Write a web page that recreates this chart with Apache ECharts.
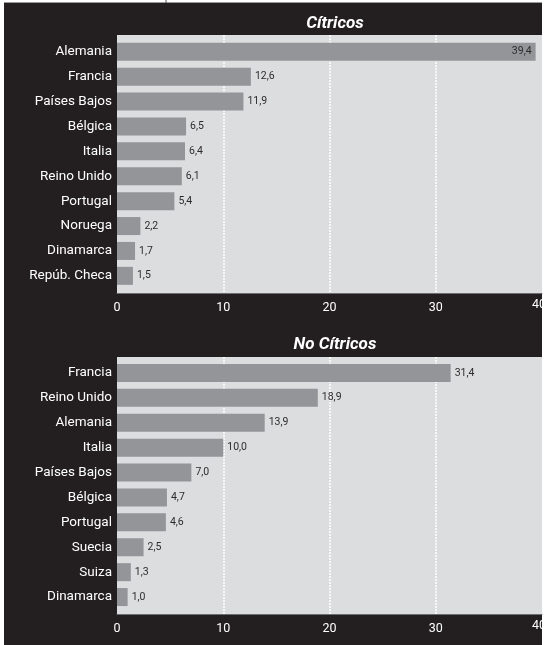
<!DOCTYPE html>
<html>
<head>
<meta charset="utf-8">
<script src="https://cdn.jsdelivr.net/npm/echarts@6/dist/echarts.min.js"></script>
<style>
html,body{margin:0;padding:0;background:#fff;}
#chart{width:544px;height:645px;}
</style>
</head>
<body>
<div id="chart"></div>
<script>
const citricosTitle = 'Cítricos';
const citricosCats = ['Alemania','Francia','Países Bajos','Bélgica','Italia','Reino Unido','Portugal','Noruega','Dinamarca','Repúb. Checa'];
const citricosVals = [39.4,12.6,11.9,6.5,6.4,6.1,5.4,2.2,1.7,1.5];

const noCitricosTitle = 'No Cítricos';
const noCitricosCats = ['Francia','Reino Unido','Alemania','Italia','Países Bajos','Bélgica','Portugal','Suecia','Suiza','Dinamarca'];
const noCitricosVals = [31.4,18.9,13.9,10.0,7.0,4.7,4.6,2.5,1.3,1.0];

const xMin = 0, xMax = 40, xStep = 10;

const BLACK = '#231f20';
const BAR = '#939598';
const PLOT_BG = '#dcdddf';
const FONT = 'Roboto';

function fmt(v){ return v.toFixed(1).replace('.', ','); }

function barData(vals){
  return vals.map(v => ({
    value: v,
    label: v > 35 ? {position: 'insideRight', distance: 4} : {position: 'right', distance: 4}
  }));
}

// outer axis: background panel, grid lines, tick labels
function xAxisOuter(gi){
  return {
    gridIndex: gi, type: 'value', min: xMin, max: xMax, interval: xStep,
    axisLine: {show: true, lineStyle: {color: '#6d6e71', width: 1}},
    axisTick: {show: false},
    splitLine: {show: true, showMinLine: false, showMaxLine: false,
                lineStyle: {color: '#ffffff', type: [2, 1], width: 1.5}},
    axisLabel: {
      color: '#ffffff', fontFamily: FONT, fontSize: 12.5, margin: 5,
      showMinLabel: true, showMaxLabel: true,
      formatter: v => v === xMax ? '{e|' + v + '}' : '{n|' + v + '}',
      rich: {
        n: {color: '#ffffff', fontFamily: FONT, fontSize: 12.5, padding: [3, 0, 0, 0]},
        e: {color: '#ffffff', fontFamily: FONT, fontSize: 12.5, padding: [0, 6, 0, 0]}
      }
    }
  };
}
// inner axis: same scale, hidden, carries the bars
function xAxisInner(gi){
  return {
    gridIndex: gi, type: 'value', min: xMin, max: xMax, interval: xStep,
    axisLine: {show: false}, axisTick: {show: false}, splitLine: {show: false}, axisLabel: {show: false}
  };
}

function yAxisOuter(gi){
  return {gridIndex: gi, type: 'category', data: [''], show: false};
}
function yAxisInner(gi, cats){
  return {
    gridIndex: gi, type: 'category', data: cats, inverse: true,
    axisLine: {show: false}, axisTick: {show: false}, splitLine: {show: false},
    axisLabel: {color: '#ffffff', fontFamily: FONT, fontSize: 13.5, margin: 5}
  };
}

function series(ai, vals){
  return {
    type: 'bar', xAxisIndex: ai, yAxisIndex: ai, data: barData(vals),
    barWidth: 18, itemStyle: {color: BAR},
    label: {show: true, color: '#2e2b2c', fontFamily: FONT, fontSize: 10.5, formatter: p => fmt(p.value)},
    silent: true, animation: false
  };
}

const gridBase = {left: 117, right: 2, containLabel: false, outerBoundsMode: 'none', borderWidth: 0};

const chart = echarts.init(document.getElementById('chart'), null, {renderer: 'canvas'});
chart.setOption({
  animation: false,
  backgroundColor: '#ffffff',
  graphic: [
    {type: 'rect', z: -10, shape: {x: 4, y: 3, width: 538, height: 642}, style: {fill: BLACK}},
    {type: 'line', z: -10, shape: {x1: 4, y1: 2.5, x2: 542, y2: 2.5}, style: {stroke: '#9a9a9a', lineWidth: 1}},
    {type: 'line', z: -10, shape: {x1: 166, y1: 0, x2: 166, y2: 3}, style: {stroke: '#555', lineWidth: 1}}
  ],
  title: [
    {text: citricosTitle, left: 330, top: 10, textAlign: 'center',
     textStyle: {color: '#ffffff', fontFamily: FONT, fontSize: 17, fontWeight: 'bold', fontStyle: 'italic'}},
    {text: noCitricosTitle, left: 330, top: 331, textAlign: 'center',
     textStyle: {color: '#ffffff', fontFamily: FONT, fontSize: 17, fontWeight: 'bold', fontStyle: 'italic'}}
  ],
  grid: [
    Object.assign({top: 35, height: 258, show: true, backgroundColor: PLOT_BG}, gridBase),
    Object.assign({top: 39.3, height: 249}, gridBase),
    Object.assign({top: 357, height: 257, show: true, backgroundColor: PLOT_BG}, gridBase),
    Object.assign({top: 360.5, height: 249}, gridBase)
  ],
  xAxis: [xAxisOuter(0), xAxisInner(1), xAxisOuter(2), xAxisInner(3)],
  yAxis: [yAxisOuter(0), yAxisInner(1, citricosCats), yAxisOuter(2), yAxisInner(3, noCitricosCats)],
  series: [series(1, citricosVals), series(3, noCitricosVals)]
});
</script>
</body>
</html>
